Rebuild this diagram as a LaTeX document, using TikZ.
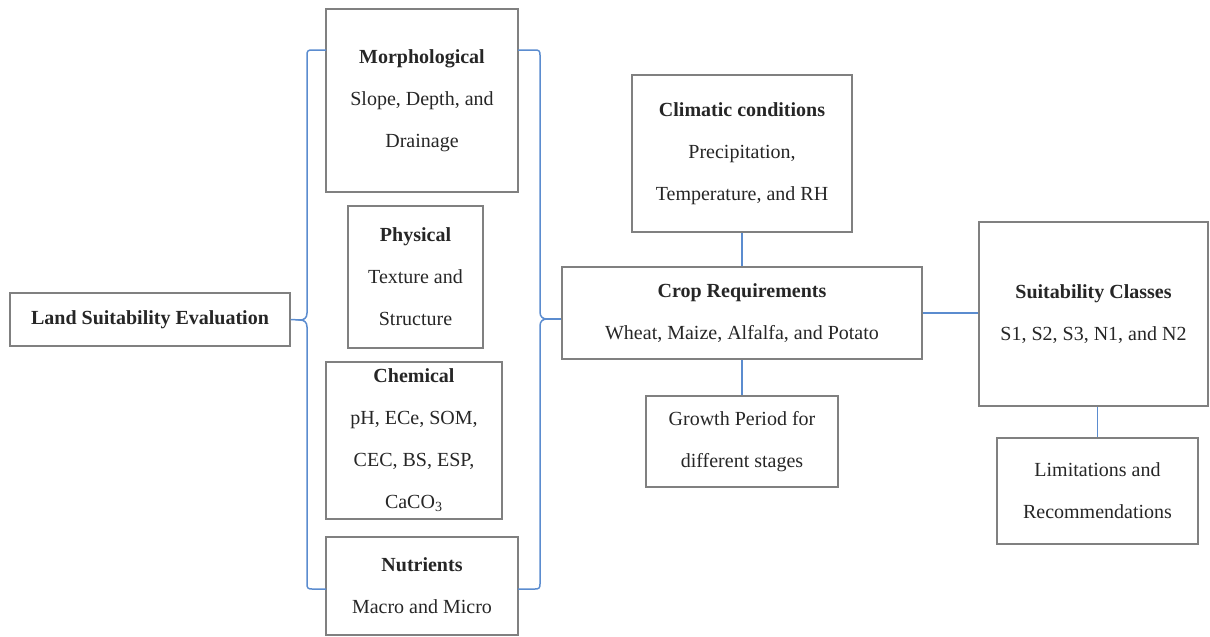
\documentclass[tikz,border=0pt]{standalone}
\usepackage{fontspec}
\setmainfont{Liberation Serif}
\usepackage{xcolor}
\usetikzlibrary{positioning}
\definecolor{linkblue}{RGB}{91,140,207}
\definecolor{boxgray}{RGB}{128,128,128}
\tikzstyle{box} = [draw=boxgray, line width=0.7pt, align=center, inner sep=0pt, text=black!85, font=\fontsize{10}{21}\selectfont]
\tikzstyle{link} = [linkblue, line width=0.75pt]

\begin{document}
\begin{tikzpicture}[x=0.5pt, y=-0.5pt]
    \useasboundingbox (0,0) rectangle (1210,637);

    % Evaluation
    \node[box, minimum width=140pt, minimum height=26.5pt] (land) at (150,319.5) {\textbf{Land Suitability Evaluation}};

    % Soil properties
    \node[box, minimum width=96pt, minimum height=91.5pt] (morph) at (422,100.5) {\textbf{Morphological}\\Slope, Depth, and\\Drainage};
    \node[box, minimum width=67.5pt, minimum height=71pt] (phys) at (415.5,277) {\textbf{Physical}\\Texture and\\Structure};
    \node[box, minimum width=88pt, minimum height=78.5pt] (chem) at (414,440.5) {\textbf{Chemical}\\pH, ECe, SOM,\\CEC, BS, ESP,\\CaCO\textsubscript{3}};
    \node[box, minimum width=96pt, minimum height=49pt] (nutr) at (422,586) {\textbf{Nutrients}\\Macro and Micro};

    % Crop side
    \node[box, minimum width=110pt, minimum height=78.5pt] (clim) at (742,153.5) {\textbf{Climatic conditions}\\Precipitation,\\Temperature, and RH};
    \node[box, minimum width=180pt, minimum height=46pt] (crop) at (742,313) {\textbf{Crop Requirements}\\Wheat, Maize, Alfalfa, and Potato};
    \node[box, minimum width=96pt, minimum height=45.5pt] (growth) at (742,441.5) {Growth Period for\\different stages};

    % Classes
    \node[box, minimum width=114.5pt, minimum height=92pt] (suit) at (1093.5,314) {\textbf{Suitability Classes}\\S1, S2, S3, N1, and N2};
    \node[box, minimum width=100.5pt, minimum height=53pt] (limit) at (1097.5,491) {Limitations and\\Recommendations};

    % Braces
    \coordinate (ltip) at (300,320);
    \coordinate (rtip) at (547,319);
    \draw[link] (326,50) -- (312,50) .. controls (308,50) and (307,51) .. (307,55)
        -- (307,313) .. controls (307,318) and (304,320) .. (ltip)
        .. controls (304,320) and (307,322) .. (307,327)
        -- (307,584) .. controls (307,588) and (308,589) .. (312,589) -- (326,589);
    \draw[link] (518,50) -- (535,50) .. controls (539,50) and (540,51) .. (540,55)
        -- (540,312) .. controls (540,317) and (543,319) .. (rtip)
        .. controls (543,319) and (540,321) .. (540,326)
        -- (540,584) .. controls (540,588) and (539,589) .. (535,589) -- (518,589);

    % Connectors
    \draw[link] (land.east) -- (ltip);
    \draw[link] (rtip) -- (rtip -| crop.west);
    \draw[link] (clim.south) -- (crop.north);
    \draw[link] (crop.south) -- (growth.north);
    \draw[link] (crop.east) -- (crop.east -| suit.west);
    \draw[link] (suit.south -| limit.north) -- (limit.north);
\end{tikzpicture}
\end{document}
